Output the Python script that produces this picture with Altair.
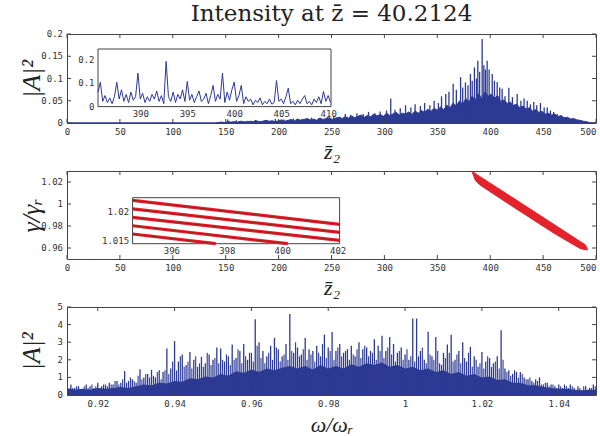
import altair as alt
import pandas as pd

# ---------------- data ----------------
# Top panel: |A|^2 versus z2 (dense body sampled every 3 units from z2 = 140, plus spikes)
top_body_start = 140
top_body_step = 3
top_body_val = [0, 0.001, 0.002, 0.001, 0.003, 0.002, 0.003, 0.002, 0.004, 0.003, 0.002, 0.004, 0.003, 0.005, 0.003, 0.004, 0.006, 0.004, 0.005, 0.003,
                0.005, 0.007, 0.004, 0.006, 0.008, 0.005, 0.009, 0.006, 0.008, 0.01, 0.007, 0.009, 0.006, 0.011, 0.008, 0.01, 0.012, 0.008, 0.011, 0.013,
                0.01, 0.014, 0.011, 0.016, 0.012, 0.015, 0.018, 0.013, 0.017, 0.014, 0.02, 0.016, 0.019, 0.015, 0.022, 0.017, 0.02, 0.024, 0.018, 0.022,
                0.02, 0.025, 0.019, 0.027, 0.022, 0.028, 0.024, 0.031, 0.026, 0.033, 0.029, 0.036, 0.03, 0.04, 0.034, 0.045, 0.038, 0.05, 0.042, 0.055,
                0.048, 0.06, 0.052, 0.066, 0.055, 0.07, 0.06, 0.065, 0.055, 0.062, 0.048, 0.052, 0.044, 0.047, 0.04, 0.042, 0.035, 0.038, 0.032, 0.034,
                0.027, 0.03, 0.024, 0.026, 0.02, 0.022, 0.018, 0.02, 0.015, 0.016, 0.012, 0.013, 0.009, 0.01, 0.007, 0.006, 0.004, 0.003, 0.001, 0]
top_spike_z = [152, 160, 170, 178, 188, 197, 205, 214, 222, 231, 238, 246,
               252, 258, 263, 268, 274, 280, 285, 291, 296,
               302, 306, 310, 315, 320, 325, 329, 334, 338, 343, 347,
               351, 354, 358, 361, 365, 368, 372, 374,
               376.6, 379, 381.3, 383, 385.1, 387, 388.3, 390, 392.4, 394, 395.5, 397.1, 399, 401.9, 404, 406.6, 409, 411.3,
               414, 417.6, 421, 425.5, 429, 432, 435, 438, 441.2, 444, 447.5, 451, 453.9, 457, 460, 463.3, 467, 470, 472.8, 476, 480, 484, 488]
top_spike_val = [0.008, 0.006, 0.005, 0.007, 0.006, 0.009, 0.008, 0.01, 0.009, 0.012, 0.011, 0.013,
                 0.016, 0.014, 0.02, 0.018, 0.022, 0.02, 0.025, 0.022, 0.026,
                 0.028, 0.055, 0.03, 0.033, 0.04, 0.035, 0.042, 0.038, 0.045, 0.04, 0.05,
                 0.045, 0.06, 0.065, 0.07, 0.088, 0.075, 0.103, 0.08,
                 0.091, 0.085, 0.11, 0.095, 0.125, 0.1, 0.14, 0.115, 0.189, 0.13, 0.12, 0.14, 0.12, 0.11, 0.095, 0.092, 0.08, 0.077,
                 0.06, 0.079, 0.058, 0.065, 0.05, 0.055, 0.05, 0.042, 0.047, 0.04, 0.045, 0.035, 0.035, 0.028, 0.025, 0.02, 0.018, 0.012, 0.009, 0.008, 0.006, 0.004, 0.003]
top_inset_start = 385.5
top_inset_step = 0.25
top_inset_val = [0.06, 0.103, 0.02, 0.045, 0.015, 0.035, 0.01, 0.04, 0.103, 0.03,
                 0.07, 0.02, 0.05, 0.015, 0.06, 0.025, 0.04, 0.142, 0.03, 0.055,
                 0.015, 0.04, 0.02, 0.05, 0.03, 0.065, 0.02, 0.045, 0.01, 0.193,
                 0.04, 0.02, 0.06, 0.015, 0.05, 0.03, 0.07, 0.02, 0.106, 0.025,
                 0.05, 0.015, 0.04, 0.065, 0.02, 0.03, 0.055, 0.01, 0.045, 0.089,
                 0.02, 0.05, 0.03, 0.142, 0.015, 0.06, 0.025, 0.07, 0.103, 0.02,
                 0.045, 0.089, 0.01, 0.04, 0.02, 0.03, 0.005, 0.025, 0.015, 0.035,
                 0.005, 0.02, 0.01, 0.03, 0.008, 0.015, 0.11, 0.02, 0.03, 0.01,
                 0.04, 0.077, 0.01, 0.02, 0.005, 0.025, 0.01, 0.03, 0.045, 0.01,
                 0.02, 0.005, 0.03, 0.015, 0.04, 0.01, 0.063, 0.02, 0.045, 0.015]
top_x_ticks = [0, 50, 100, 150, 200, 250, 300, 350, 400, 450, 500]
top_y_ticks = [0, 0.05, 0.1, 0.15, 0.2]
top_inset_x_ticks = [390, 395, 400, 405, 410]
top_inset_y_ticks = [0, 0.1, 0.2]

# Middle panel: gamma/gamma_r band versus z2
mid_band_z = [383, 386, 390, 420, 460, 485, 490, 492]
mid_band_upper = [1.0295, 1.0277, 1.0251, 1.0065, 0.9815, 0.9659, 0.9628, 0.9587]
mid_band_lower = [1.0290, 1.0215, 1.0175, 0.9985, 0.9736, 0.9595, 0.9585, 0.9583]
mid_inset_start_z = [394.6, 394.6, 394.6, 394.6, 394.6]
mid_inset_start_g = [1.02207, 1.02054, 1.01904, 1.01755, 1.01607]
mid_inset_end_z = [402.07, 402.07, 402.07, 400.2, 397.6]
mid_inset_end_g = [1.01779, 1.01636, 1.01493, 1.01434, 1.01434]
mid_x_ticks = [0, 50, 100, 150, 200, 250, 300, 350, 400, 450, 500]
mid_y_ticks = [0.96, 0.98, 1.0, 1.02]
mid_inset_x_ticks = [396, 398, 400, 402]
mid_inset_y_ticks = [1.015, 1.02]

# Bottom panel: |A|^2 spectrum versus omega/omega_r
bot_body_start = 0.912
bot_body_step = 0.002
bot_body_val = [0.4, 0.3, 0.35, 0.3, 0.4, 0.35, 0.4, 0.45, 0.4, 0.5,
                0.6, 0.55, 0.7, 0.65, 0.8, 0.75, 0.95, 0.9, 1.05, 1.0,
                1.2, 1.1, 1.35, 1.25, 1.45, 1.3, 1.5, 1.4, 1.55, 1.65,
                1.5, 1.65, 1.45, 1.7, 1.5, 1.65, 1.5, 1.75, 1.6, 1.8,
                1.7, 1.85, 1.6, 1.7, 1.5, 1.6, 1.4, 1.5, 1.3, 1.4,
                1.2, 1.3, 1.1, 1.2, 1.0, 1.05, 0.85, 0.9, 0.7, 0.7,
                0.55, 0.55, 0.45, 0.4, 0.35, 0.35, 0.3, 0.25, 0.3, 0.3]
bot_spike_start = 0.913
bot_spike_step = 0.001
bot_spike_val = [0.6, 0.4, 0.5, 0.3, 0.6, 0.5, 0.4, 0.7, 0.5, 0.6,
                 0.7, 0.6, 0.8, 0.7, 1.36, 0.8, 0.9, 0.7, 1.47, 1.0,
                 1.2, 1.43, 1.0, 1.4, 1.3, 2.64, 1.5, 3.06, 1.9, 2.3,
                 1.7, 2.45, 2.0, 1.6, 2.17, 1.8, 2.3, 2.0, 2.7, 2.64,
                 1.9, 2.2, 2.87, 2.1, 2.5, 2.9, 2.0, 2.4, 4.3, 3.0,
                 2.5, 2.2, 2.8, 3.25, 2.6, 2.2, 2.9, 4.6, 2.4, 2.7,
                 2.3, 3.24, 2.6, 2.5, 2.8, 2.2, 3.43, 2.7, 3.58, 2.5,
                 2.9, 2.4, 2.6, 2.8, 2.2, 3.0, 2.6, 2.7, 2.5, 3.17,
                 2.8, 3.36, 2.5, 3.3, 2.9, 2.4, 2.7, 2.3, 2.0, 4.34,
                 4.34, 2.5, 2.0, 3.6, 2.2, 3.3, 1.8, 2.4, 2.87, 3.43,
                 2.0, 2.5, 3.0, 1.9, 2.74, 2.2, 1.6, 2.45, 1.9, 2.1,
                 1.8, 2.2, 3.68, 1.5, 1.4, 1.2, 1.32, 1.3, 1.0, 0.9,
                 0.8, 0.9, 1.0, 0.6, 0.7, 0.6, 0.5, 0.6, 0.4, 0.5,
                 0.6, 0.4, 0.5, 0.3, 0.5, 0.4, 0.6]
bot_spike2_start = 0.9135
bot_spike2_step = 0.001
bot_spike2_val = [0.4, 0.5, 0.3, 0.5, 0.4, 0.6, 0.5, 0.4, 0.6, 0.5,
                  0.6, 0.8, 0.6, 0.9, 0.7, 1.0, 0.8, 1.1, 0.9, 1.2,
                  1.0, 1.1, 1.3, 0.9, 1.4, 1.2, 1.9, 1.4, 2.2, 1.6,
                  1.9, 1.5, 2.2, 1.8, 1.6, 2.4, 1.7, 2.1, 1.8, 2.0,
                  2.3, 1.7, 2.0, 2.6, 1.8, 2.2, 2.4, 1.9, 2.8, 2.1,
                  1.8, 2.4, 2.0, 2.7, 1.9, 2.3, 2.0, 2.5, 3.0, 2.2,
                  2.6, 2.0, 2.3, 1.9, 2.4, 2.9, 2.1, 2.5, 2.0, 2.7,
                  2.2, 2.5, 2.0, 2.3, 2.6, 2.1, 2.8, 2.2, 2.4, 2.0,
                  2.5, 2.1, 2.7, 2.3, 1.9, 2.5, 2.0, 2.6, 2.2, 1.9,
                  2.2, 2.7, 1.8, 2.3, 2.0, 2.5, 1.7, 2.1, 2.4, 1.9,
                  2.3, 1.8, 2.1, 2.4, 1.6, 2.0, 1.8, 1.5, 2.2, 1.6,
                  1.9, 1.5, 2.0, 1.3, 1.1, 1.4, 1.0, 1.2, 0.9, 1.0,
                  0.7, 0.8, 0.6, 0.7, 0.5, 0.6, 0.4, 0.5, 0.6, 0.4,
                  0.5, 0.3, 0.4, 0.5, 0.3, 0.4, 0.5]
bot_x_ticks = [0.92, 0.94, 0.96, 0.98, 1.0, 1.02, 1.04]
bot_y_ticks = [0, 1, 2, 3, 4, 5]

# ---------------- styling / layout ----------------
W = 529
H1, H2, H3 = 89, 88, 88
BLUE = "#2d3a94"
RED = "#e3222b"
DARKRED = "#7a1010"
AXC = "#444444"
LBL = "#333333"
MONO = "DejaVu Sans Mono"
SERIF = "Liberation Serif"
TL = 4  # inward tick length
LAST_RIGHT = {"condition": {"test": "datum.value >= 500", "value": "right"}, "value": "center"}


def lab_axis(values, fmt, **kw):
    return alt.Axis(values=values, format=fmt, labelFont=MONO, labelFontSize=9, labelColor=LBL,
                    labelOverlap=False, labelFlush=False, ticks=False, domain=False, grid=False, **kw)


def frame_ticks(xt, yt, xs, ys, H):
    dx = pd.DataFrame({"x": xt})
    dy = pd.DataFrame({"y": yt, "label": [f"{v:g}" for v in yt]})
    r = dict(color=AXC, strokeWidth=1)
    return [
        alt.Chart(dx).mark_rule(**r).encode(x=alt.X("x:Q", scale=xs), y=alt.value(H), y2=alt.value(H - TL)),
        alt.Chart(dx).mark_rule(**r).encode(x=alt.X("x:Q", scale=xs), y=alt.value(0), y2=alt.value(TL)),
        alt.Chart(dy).mark_rule(**r).encode(y=alt.Y("y:Q", scale=ys), x=alt.value(0), x2=alt.value(TL)),
        alt.Chart(dy).mark_rule(**r).encode(y=alt.Y("y:Q", scale=ys), x=alt.value(W), x2=alt.value(W - TL)),
        # y tick labels as text, right-aligned left of the frame
        alt.Chart(dy).mark_text(align="right", baseline="middle", font=MONO, fontSize=9, color=LBL, dx=-4).encode(
            y=alt.Y("y:Q", scale=ys), x=alt.value(0), text="label:N"),
    ]


def ytitle(text, H):
    return dict(title=text, titleFont=SERIF, titleFontSize=26, titleFontStyle="italic", titleFontWeight="normal",
                titleColor="#222", titleX=-28, titleY=H / 2, titleAngle=270, titleAlign="center",
                titleBaseline="alphabetic", labels=False)


def xtitle(text, dy):
    return dict(title=text, titleFont=SERIF, titleFontSize=22, titleFontStyle="italic", titleFontWeight="normal",
                titleColor="#222", titleX=W / 2, titleY=dy, titleAlign="center", titleBaseline="alphabetic")


# ---------- top panel ----------
xs1 = alt.Scale(domain=[0, 500], nice=False, zero=False)
ys1 = alt.Scale(domain=[0, 0.2], nice=False)
top_z = [0] + [top_body_start + i * top_body_step for i in range(len(top_body_val))] + [500]
top_v = [0] + top_body_val + [0]
top_area = alt.Chart(pd.DataFrame({"x": top_z, "y": top_v})).mark_area(
    color=BLUE, stroke=BLUE, strokeWidth=1).encode(
    x=alt.X("x:Q", scale=xs1, axis=lab_axis(top_x_ticks, "d", labelPadding=4, labelAlign=LAST_RIGHT,
                                            **xtitle("z̄₂", 35))),
    y=alt.Y("y:Q", scale=ys1, axis=lab_axis(top_y_ticks, ".2~f", labelPadding=4, **ytitle("|A|²", H1))),
)
top_spikes = alt.Chart(pd.DataFrame({"x": top_spike_z, "y": top_spike_val})).mark_rule(
    color=BLUE, strokeWidth=1.3).encode(x=alt.X("x:Q", scale=xs1), y=alt.Y("y:Q", scale=ys1), y2=alt.datum(0))
top_main = alt.layer(top_area, top_spikes, *frame_ticks(top_x_ticks, top_y_ticks, xs1, ys1, H1))

ixs1 = alt.Scale(domain=[385.5, 410.3], range=[31, 264], nice=False, zero=False)
iys1 = alt.Scale(domain=[-0.0025, 0.246], range=[72.6, 15], nice=False, zero=False)
inset_top_z = [top_inset_start + i * top_inset_step for i in range(len(top_inset_val))]
top_box = alt.Chart(pd.DataFrame({"x0": [385.5], "x1": [410.3], "y0": [-0.0025], "y1": [0.246]})).mark_rect(
    fill="white", stroke=AXC, strokeWidth=1).encode(
    x=alt.X("x0:Q", scale=ixs1, axis=lab_axis(top_inset_x_ticks, "d", orient="bottom", offset=-(H1 - 72.6),
                                              labelPadding=3, title=None)),
    x2="x1:Q",
    y=alt.Y("y0:Q", scale=iys1, axis=lab_axis(top_inset_y_ticks, ".1~f", orient="left", offset=-31,
                                              labelPadding=4, title=None)),
    y2="y1:Q",
)
top_inset_line = alt.Chart(pd.DataFrame({"x0": inset_top_z, "y0": top_inset_val})).mark_line(
    color=BLUE, strokeWidth=1).encode(x=alt.X("x0:Q", scale=ixs1), y=alt.Y("y0:Q", scale=iys1))
top_inset = alt.layer(top_box, top_inset_line)
panel1 = alt.layer(top_main, top_inset).resolve_scale(x="independent", y="independent").properties(
    width=W, height=H1)

# ---------- middle panel ----------
xs2 = alt.Scale(domain=[0, 500], nice=False, zero=False)
ys2 = alt.Scale(domain=[0.95, 1.03], nice=False, zero=False)
mid_area = alt.Chart(pd.DataFrame({"x": mid_band_z, "y": mid_band_upper, "y2": mid_band_lower})).mark_area(
    color=RED, stroke=RED, strokeWidth=1).encode(
    x=alt.X("x:Q", scale=xs2, axis=lab_axis(mid_x_ticks, "d", labelPadding=4, labelAlign=LAST_RIGHT,
                                            **xtitle("z̄₂", 35))),
    y=alt.Y("y:Q", scale=ys2, axis=lab_axis(mid_y_ticks, ".2~f", labelPadding=4, **ytitle("γ/γᵣ", H2))),
    y2="y2:Q",
)
mid_main = alt.layer(mid_area, *frame_ticks(mid_x_ticks, mid_y_ticks, xs2, ys2, H2))

ixs2 = alt.Scale(domain=[394.6, 402.07], range=[65.6, 272.6], nice=False, zero=False)
iys2 = alt.Scale(domain=[1.01434, 1.02255], range=[72.7, 26.7], nice=False, zero=False)
rows = []
for i in range(len(mid_inset_start_z)):
    rows.append({"x0": mid_inset_start_z[i], "y0": mid_inset_start_g[i], "k": i})
    rows.append({"x0": mid_inset_end_z[i], "y0": mid_inset_end_g[i], "k": i})
mid_lines_df = pd.DataFrame(rows)
mid_box = alt.Chart(pd.DataFrame({"x0": [394.6], "x1": [402.07], "y0": [1.01434], "y1": [1.02255]})).mark_rect(
    fill="white", stroke=AXC, strokeWidth=1).encode(
    x=alt.X("x0:Q", scale=ixs2, axis=lab_axis(mid_inset_x_ticks, "d", orient="bottom", offset=-(H2 - 72.7),
                                              labelPadding=3, title=None)),
    x2="x1:Q",
    y=alt.Y("y0:Q", scale=iys2, axis=lab_axis(mid_inset_y_ticks, ".3~f", orient="left", offset=-65.6,
                                              labelPadding=4, title=None)),
    y2="y1:Q",
)
mid_lines = alt.Chart(mid_lines_df).mark_line(color=RED, strokeWidth=3.2).encode(
    x=alt.X("x0:Q", scale=ixs2), y=alt.Y("y0:Q", scale=iys2), detail="k:N")
mid_lines_core = alt.Chart(mid_lines_df).mark_line(color=DARKRED, strokeWidth=0.8, opacity=0.7).encode(
    x=alt.X("x0:Q", scale=ixs2), y=alt.Y("y0:Q", scale=iys2), detail="k:N")
mid_inset = alt.layer(mid_box, mid_lines, mid_lines_core)
panel2 = alt.layer(mid_main, mid_inset).resolve_scale(x="independent", y="independent").properties(
    width=W, height=H2)

# ---------- bottom panel ----------
xs3 = alt.Scale(domain=[0.912, 1.0497], nice=False, zero=False)
ys3 = alt.Scale(domain=[0, 5], nice=False)
bot_body_w = [bot_body_start + i * bot_body_step for i in range(len(bot_body_val))]
bot_area = alt.Chart(pd.DataFrame({"x": bot_body_w, "y": bot_body_val})).mark_area(
    color=BLUE, clip=True).encode(
    x=alt.X("x:Q", scale=xs3, axis=lab_axis(bot_x_ticks, ".2~f", labelPadding=4, **xtitle("ω/ωᵣ", 36))),
    y=alt.Y("y:Q", scale=ys3, axis=lab_axis(bot_y_ticks, "d", labelPadding=4, **ytitle("|A|²", H3))),
)
bot_w = [bot_spike_start + i * bot_spike_step for i in range(len(bot_spike_val))]
bot_spikes = alt.Chart(pd.DataFrame({"x": bot_w, "y": bot_spike_val})).mark_rule(
    color=BLUE, strokeWidth=1.3).encode(x=alt.X("x:Q", scale=xs3), y=alt.Y("y:Q", scale=ys3), y2=alt.datum(0))
bot_w2 = [bot_spike2_start + i * bot_spike2_step for i in range(len(bot_spike2_val))]
bot_spikes2 = alt.Chart(pd.DataFrame({"x": bot_w2, "y": bot_spike2_val})).mark_rule(
    color=BLUE, strokeWidth=1.1).encode(x=alt.X("x:Q", scale=xs3), y=alt.Y("y:Q", scale=ys3), y2=alt.datum(0))
panel3 = alt.layer(bot_area, bot_spikes2, bot_spikes, *frame_ticks(bot_x_ticks, bot_y_ticks, xs3, ys3, H3)).properties(
    width=W, height=H3)

chart = alt.vconcat(panel1, panel2, panel3, spacing=48, bounds="flush").properties(
    title=alt.Title("Intensity at z̄ = 40.2124", font="DejaVu Serif", fontSize=23, fontWeight="normal",
                    color="#222", anchor="middle", frame="group", offset=4),
    padding={"left": 17, "top": 2, "right": 0, "bottom": 0},
).configure_view(stroke=AXC, strokeWidth=1).configure_axis(labelOverlap=False, labelFlush=False)

chart.save("out.html", embed_options={"renderer": "svg", "actions": False})
